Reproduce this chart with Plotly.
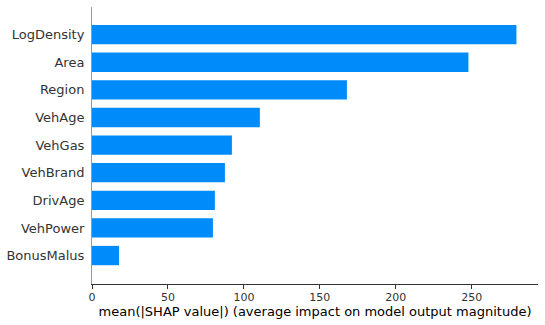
import plotly.graph_objects as go

features = ["BonusMalus", "VehPower", "DrivAge", "VehBrand", "VehGas",
            "VehAge", "Region", "Area", "LogDensity"]
values = [17.8, 79.6, 80.9, 87.5, 92.1, 110.5, 167.8, 247.8, 279.4]
x_ticks = [0, 50, 100, 150, 200, 250]
positions = list(range(len(features)))

fig = go.Figure(go.Bar(
    x=values, y=positions, orientation="h", width=0.7,
    marker=dict(color="#008bfb", line=dict(width=0)),
))

font = "DejaVu Sans, sans-serif"
fig.update_layout(
    width=545, height=325, autosize=False,
    margin=dict(l=92, r=7, t=7, b=41, autoexpand=False),
    plot_bgcolor="white", paper_bgcolor="white",
    showlegend=False,
    font=dict(family=font, color="#333333"),
)
fig.update_xaxes(
    range=[0, 293.6], tickvals=x_ticks, ticktext=[str(t) for t in x_ticks],
    showgrid=False, zeroline=False, automargin=False,
    showline=True, linecolor="#333333", linewidth=1,
    ticks="outside", ticklen=4, tickcolor="#333333", tickwidth=1,
    ticklabelstandoff=-1,
    tickfont=dict(size=11, color="#333333", family=font),
    title=dict(text="mean(|SHAP value|) (average impact on model output magnitude)",
               font=dict(size=13, color="#000000", family=font), standoff=0),
)
fig.update_yaxes(
    range=[-1.03, 9.0], tickvals=positions, ticktext=features,
    showgrid=False, zeroline=False, automargin=False,
    showline=True, linecolor="#999999", linewidth=1,
    ticks="", ticklabelstandoff=4,
    tickfont=dict(size=13, color="#333333", family=font),
)

fig.write_html("out.html",
               config={"displayModeBar": False},
               post_script="document.body.style.margin='0';document.body.style.overflow='hidden';")
